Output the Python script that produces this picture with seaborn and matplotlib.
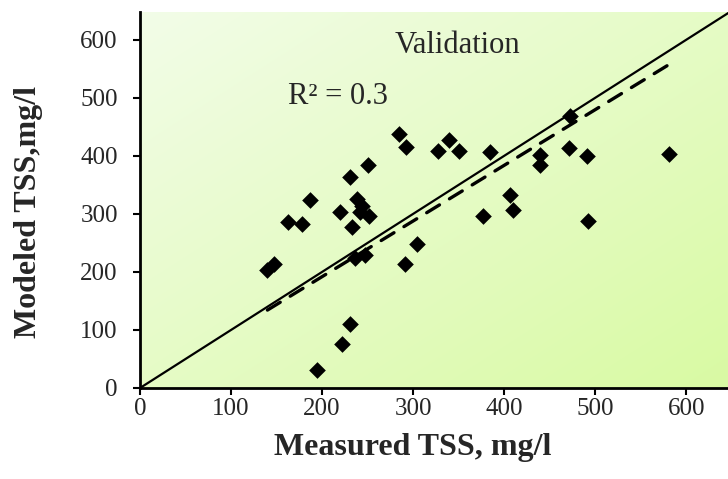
import numpy as np
import pandas as pd
import matplotlib
matplotlib.use('Agg')
import matplotlib.pyplot as plt
import seaborn as sns

# measured vs modeled TSS (validation set)
measured = [140, 147, 163, 178, 187, 195, 220, 222, 231, 231, 233, 238, 236, 242,
            244, 247, 252, 250, 284, 292, 291, 304, 327, 339, 350, 377, 385, 406,
            410, 440, 440, 472, 471, 491, 492, 581]
modeled = [203, 213, 286, 282, 324, 31, 304, 75, 110, 364, 277, 325, 224, 303,
           313, 229, 296, 384, 437, 416, 214, 248, 408, 428, 409, 297, 406, 333,
           307, 402, 384, 468, 414, 400, 288, 403]
ticks = [0, 100, 200, 300, 400, 500, 600]
panel_title = 'Validation'
r2_label = 'R\u00b2 = 0.3'

df = pd.DataFrame({'measured': measured, 'modeled': modeled})

sns.set_style('ticks')
plt.rcParams['font.family'] = ['Liberation Serif', 'DejaVu Serif']

fig = plt.figure(figsize=(7.28, 4.79), dpi=100)
ax = fig.add_axes([140 / 728, 91 / 479, 588 / 728, 376 / 479])

xmax, ymax = 646, 648

# light green diagonal gradient behind the plot (pale top-left -> green bottom-right)
c0 = np.array([0.95, 0.99, 0.91])
c1 = np.array([0.85, 0.98, 0.64])
gx, gy = np.meshgrid(np.linspace(0, 1, 200), np.linspace(0, 1, 200))
t = (gx + gy) / 2
grad = c0[None, None, :] * (1 - t[..., None]) + c1[None, None, :] * t[..., None]
ax.imshow(grad, extent=[0, xmax, 0, ymax], origin='upper', aspect='auto',
          zorder=0, interpolation='bilinear')

# 1:1 line
ax.plot([0, 700], [0, 700], color='black', lw=1.6, zorder=2)

# trend line forced through the origin (as Excel "set intercept = 0")
x = df['measured'].to_numpy(float)
y = df['modeled'].to_numpy(float)
slope = np.sum(x * y) / np.sum(x * x)
xfit = np.array([x.min(), x.max()])
ax.plot(xfit, slope * xfit, color='black', lw=2.4, ls=(0, (4.5, 3.5)),
        dash_capstyle='round', zorder=3)

sns.scatterplot(data=df, x='measured', y='modeled', ax=ax, marker='D', s=72,
                color='black', edgecolor='black', linewidth=0, zorder=4)

ax.set_xlim(0, xmax)
ax.set_ylim(0, ymax)
ax.set_xticks(ticks)
ax.set_yticks(ticks)
ax.tick_params(labelsize=18, length=5, width=1.5, color='black')
ax.tick_params(axis='x', pad=2)
ax.tick_params(axis='y', pad=11)

for side in ['top', 'right']:
    ax.spines[side].set_visible(False)
for side in ['left', 'bottom']:
    ax.spines[side].set_linewidth(2)
    ax.spines[side].set_color('black')

ax.set_xlabel('Measured TSS, mg/l', fontsize=23, fontweight='bold')
ax.set_ylabel('Modeled TSS,mg/l', fontsize=23, fontweight='bold')
ax.xaxis.set_label_coords((413 - 140) / 588, -0.12)
ax.yaxis.set_label_coords(-0.165, 0.468)

ax.text(349, 591, panel_title, fontsize=22, ha='center', va='center')
ax.text(163, 503, r2_label, fontsize=22, ha='left', va='center')

fig.savefig('out.png', dpi=100)
